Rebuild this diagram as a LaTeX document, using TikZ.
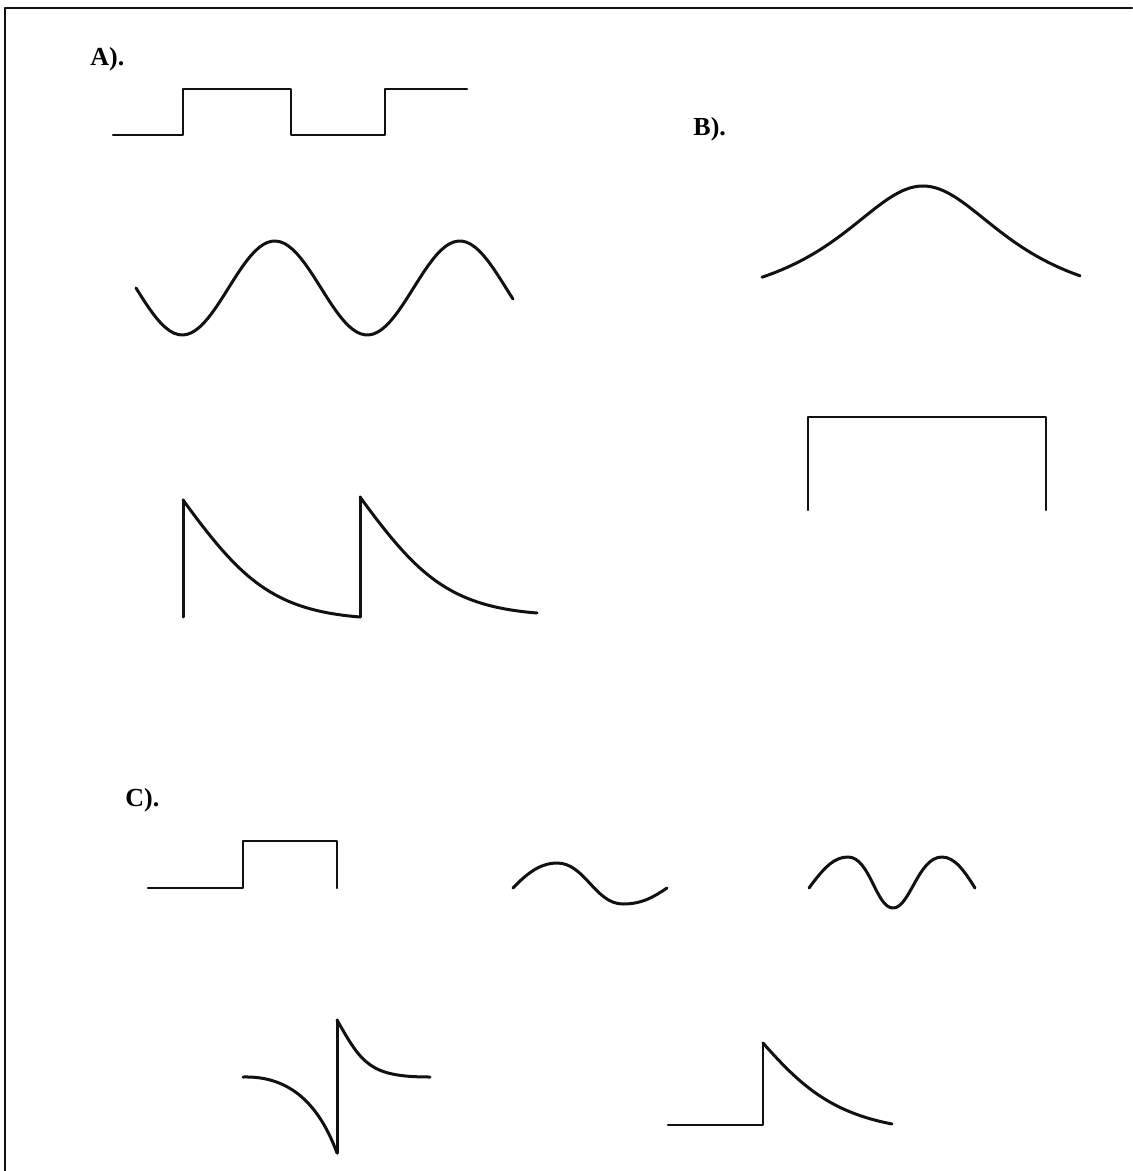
\documentclass[tikz,border=0pt]{standalone}
\usepackage{fontspec}
\setmainfont{Liberation Serif}
\definecolor{traceink}{HTML}{111111}
\newcommand{\squarewaveA}{
  (113,135) -- (183,135) -- (183,89) -- (291,89) -- (291,135) -- (385,135) -- (385,89) -- (467,89)
}
\newcommand{\decayA}{
  (183,500) .. controls (240,578) and (272,610) .. (360,617)
}
\newcommand{\decayB}{
  (360,497) .. controls (417,575) and (449,606) .. (537,613)
}

\begin{document}
\begin{tikzpicture}[x=0.5pt, y=-0.5pt, line cap=round, line join=round,
  trace/.style={traceink, line width=1.5pt},
  stepline/.style={traceink, line width=1.1pt},
  panel/.style={font=\fontsize{13}{15}\selectfont\bfseries, anchor=base west, inner sep=0pt}]

  \useasboundingbox (0,0) rectangle (1132,1171);

  % frame (left and top edges only)
  \draw[traceink, line width=1.2pt] (5,1171) -- (5,8) -- (1132,8);

  % ============ Panel A ============
  \node[panel] (labelA) at (90,66) {A).};

  \draw[stepline] \squarewaveA;

  % period 185 -> 360/185 = 1.9459 deg per unit
  \draw[trace] plot[domain=136:513, samples=90] (\x, {288+47*sin(1.9459*(\x-136))});

  % two spikes with exponential tails
  \draw[trace] (183,617) -- (183,500);
  \draw[trace] \decayA;
  \draw[trace] (360,617) -- (360,497);
  \draw[trace] \decayB;

  % ============ Panel B ============
  \node[panel] (labelB) at (693,136) {B).};

  % bell with heavy tails (lorentzian)
  \draw[trace] plot[domain=762:1080, samples=80] (\x, {316-130/(1+((\x-923)/105)^2)});

  \draw[stepline] (808,510) -- (808,417) -- (1046,417) -- (1046,510);

  % ============ Panel C ============
  \node[panel] (labelC) at (125,806) {C).};

  \draw[stepline] (148,888) -- (243,888) -- (243,841) -- (337,841) -- (337,888);

  % one slow cycle
  \draw[trace] (513,888) .. controls (530,870) and (543,863) .. (557,863)
    .. controls (585,863) and (595,904) .. (623,904)
    .. controls (643,904) and (655,896) .. (667,888);

  % two humps with a deep notch
  \draw[trace] (809,888) .. controls (825,866) and (835,857) .. (848,857)
    .. controls (870,857) and (876,908) .. (893,908)
    .. controls (910,908) and (918,857) .. (942,857)
    .. controls (955,857) and (965,872) .. (975,888);

  % biphasic: slow dip, sharp reversal, fast recovery
  \draw[trace] (243,1077) .. controls (280,1076) and (315,1093) .. (337,1153);
  \draw[trace] (337,1153) -- (337,1020);
  \draw[trace] (337,1020) .. controls (362,1064) and (370,1077) .. (430,1077);

  % step onto a decaying tail
  \draw[stepline] (668,1125) -- (763,1125) -- (763,1043);
  \draw[trace] (763,1043) .. controls (800,1085) and (830,1112) .. (892,1124);

\end{tikzpicture}
\end{document}
